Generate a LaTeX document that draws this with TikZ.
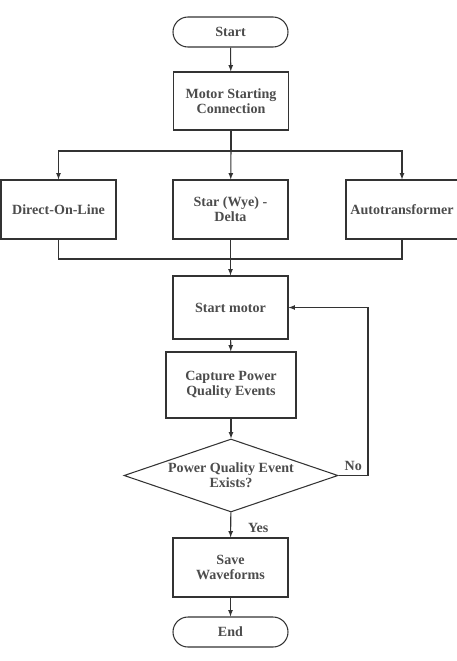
\documentclass[tikz,border=0pt]{standalone}
\usepackage{fontspec}
\setmainfont{Liberation Serif}
\usepackage{tikz}
\usetikzlibrary{arrows}
\usetikzlibrary{shapes.geometric}

\tikzset{
    box/.style = {draw=black!80, line width=0.9pt, text=black!70, font=\bfseries\fontsize{12}{12.5}\selectfont, align=center, minimum width=3.45cm, minimum height=1.77cm, inner sep=2pt},
    term/.style = {box, rounded corners=0.45cm, minimum height=0.9cm},
    decision/.style = {box, diamond, aspect=2.93, inner sep=0pt, minimum width=6.42cm, minimum height=2.19cm},
    flow/.style = {draw=black!80, line width=0.9pt, -latex},
    link/.style = {draw=black!80, line width=0.9pt},
    tag/.style = {text=black!70, font=\bfseries\fontsize{12}{12.5}\selectfont}
}

\begin{document}
\begin{tikzpicture}[x=0.03cm, y=-0.03cm]
    \useasboundingbox (0, 0) rectangle (457, 661);
    \node [term] (start) at (230.5, 32) {Start};
    \node [box, minimum height=1.74cm] (msc) at (231, 101) {Motor Starting\\Connection};
    \node [box] (dol) at (58.5, 209.5) {Direct-On-Line};
    \node [box] (swd) at (230.5, 209.5) {Star (Wye) -\\Delta};
    \node [box, minimum width=3.36cm] (auto) at (402, 209.5) {Autotransformer};
    \node [box, minimum height=1.89cm] (motor) at (230.5, 307.5) {Start motor};
    \node [box, minimum width=3.9cm, minimum height=1.98cm] (capture) at (231, 385) {Capture Power\\Quality Events};
    \node [decision] (exists) at (231, 475.5) {Power Quality Event\\Exists?};
    \node [box] (save) at (230.5, 567.5) {Save\\Waveforms};
    \node [term] (end) at (230.5, 632) {End};

    \coordinate (split) at (231, 151);
    \coordinate (merge) at (231, 259);
    \coordinate (back) at (368, 475.5);

    \draw [flow] (start) -- (msc);
    \draw [link] (msc) -- (split);
    \draw [flow] (split) -| (dol);
    \draw [flow] (split) -- (swd);
    \draw [flow] (split) -| (auto);
    \draw [link] (dol) |- (merge);
    \draw [link] (auto) |- (merge);
    \draw [flow] (swd) -- (motor);
    \draw [flow] (motor) -- (capture);
    \draw [flow] (capture) -- (exists);
    \draw [flow] (exists) -- node [tag, right=11pt, pos=0.6] {Yes} (save);
    \draw [link] (exists) -- node [tag, above] {No} (back);
    \draw [flow] (back) |- (motor);
    \draw [flow] (save) -- (end);
\end{tikzpicture}
\end{document}
